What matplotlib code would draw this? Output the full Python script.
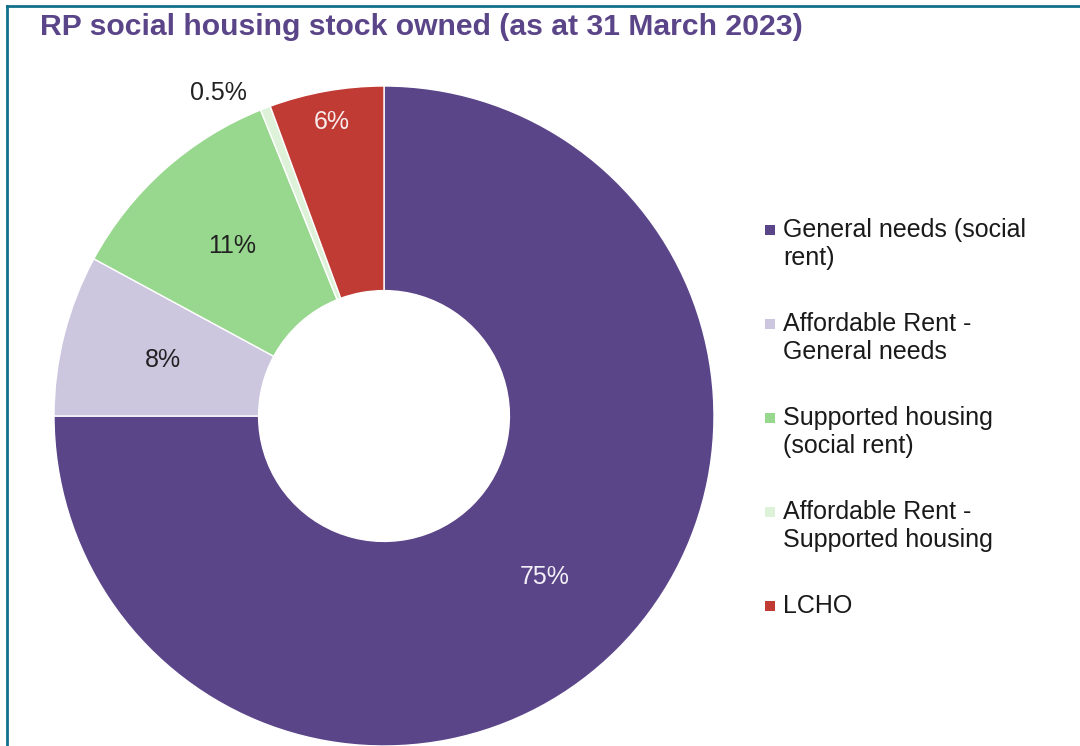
import numpy as np
import matplotlib
matplotlib.use("Agg")
import matplotlib.pyplot as plt
from matplotlib.patches import Rectangle
from matplotlib.lines import Line2D

# data
categories = ["General needs (social\nrent)",
              "Affordable Rent -\nGeneral needs",
              "Supported housing\n(social rent)",
              "Affordable Rent -\nSupported housing",
              "LCHO"]
shares = [75.0, 7.9, 11.0, 0.5, 5.6]
pct_labels = ["75%", "8%", "11%", "0.5%", "6%"]

colors = ["#5B4589", "#CCC6DF", "#98D78E", "#DDF2D9", "#C13B35"]
label_colors = ["#F2EFF7", "#222222", "#222222", "#222222", "#F7ECEB"]
label_r = [0.69, 0.69, 0.69, 1.10, 0.905]
label_dang = [0, 0, 0, 6, 0]

plt.rcParams['font.family'] = ['Liberation Sans', 'DejaVu Sans']

W, H = 1080, 746
fig = plt.figure(figsize=(W / 100, H / 100), dpi=100)

# pie axes: centre (384, 416) px, radius 330 px
cx, cy, R = 384, 416, 330
ax = fig.add_axes([(cx - R) / W, (H - cy - R) / H, 2 * R / W, 2 * R / H])
wedges, _ = ax.pie(shares, colors=colors, startangle=90, counterclock=False,
                   radius=1, wedgeprops=dict(width=0.62, edgecolor="white", linewidth=1))
ax.set_xlim(-1, 1)
ax.set_ylim(-1, 1)
ax.set_aspect("equal")
ax.axis("off")

for w, lab, c, r, da in zip(wedges, pct_labels, label_colors, label_r, label_dang):
    mid = np.deg2rad((w.theta1 + w.theta2) / 2 + da)
    ax.text(r * np.cos(mid), r * np.sin(mid), lab, color=c, fontsize=18,
            ha="center", va="center")

# title
fig.text(40 / W, 1 - 27 / H, "RP social housing stock owned (as at 31 March 2023)",
         fontsize=21.7, fontweight="bold", color="#5B4589", va="center", ha="left")

# legend
y0 = 230
for i, (cat, col) in enumerate(zip(categories, colors)):
    y = y0 + i * 94
    fig.patches.append(Rectangle((765 / W, 1 - (y + 5) / H), 10 / W, 10 / H,
                                 transform=fig.transFigure, facecolor=col,
                                 edgecolor="none"))
    fig.text(783 / W, 1 - (y - 12) / H, cat, fontsize=18, color="#1a1a1a",
             va="top", ha="left", linespacing=1.22)

# frame lines
frame = "#12708A"
fig.add_artist(Line2D([7 / W, 7 / W], [0, 1 - 6 / H], color=frame, lw=2,
                      transform=fig.transFigure))
fig.add_artist(Line2D([7 / W, 1], [1 - 6 / H, 1 - 6 / H], color=frame, lw=2,
                      transform=fig.transFigure))

fig.savefig("out.png", dpi=100)
